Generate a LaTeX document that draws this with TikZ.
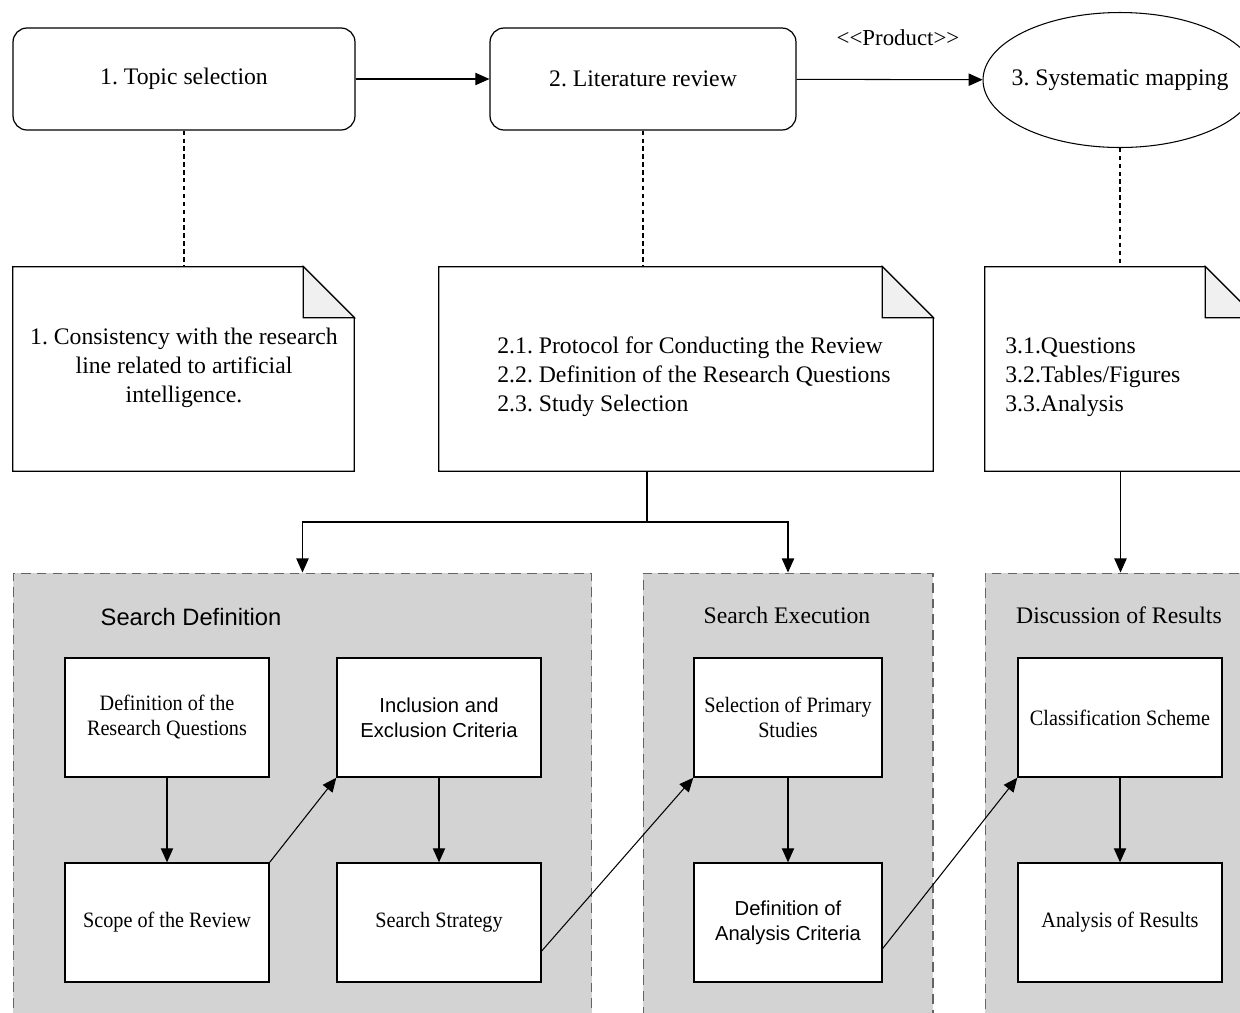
\documentclass[tikz,border=0pt]{standalone}
\usepackage{fontspec}
\setmainfont{Liberation Serif}
\setsansfont{Liberation Sans}
\newfontfamily\narrowserif[FakeStretch=0.92]{Liberation Serif}
\usetikzlibrary{arrows.meta,shapes.geometric}
\definecolor{panelgray}{RGB}{211,211,211}
\definecolor{edgegray}{RGB}{100,100,100}
\definecolor{foldgray}{RGB}{240,240,240}
\frenchspacing
\begin{document}
\begin{tikzpicture}[x=0.02cm, y=-0.02cm,
    phase/.style={draw, rounded corners=0.28cm, line width=0.7pt, minimum width=6.84cm, minimum height=2.04cm, font=\fontsize{13.5}{16.4}\selectfont},
    notebox/.style={minimum height=4.08cm, inner sep=0},
    notetext/.style={inner sep=0, font=\fontsize{13.5}{16.4}\selectfont},
    panel/.style={draw=edgegray, fill=panelgray, dash pattern=on 5.5pt off 3.5pt, line width=0.6pt, minimum height=9.14cm},
    paneltitle/.style={inner sep=0, font=\fontsize{13.5}{16.4}\selectfont},
    taskbox/.style={draw, fill=white, line width=0.8pt, minimum width=4.08cm, minimum height=2.38cm, align=center, font=\narrowserif\fontsize{12.5}{14.2}\selectfont},
    arr/.style={-{Triangle[length=8pt,width=7pt]}, line width=0.6pt},
    link/.style={line width=0.6pt, dash pattern=on 2.5pt off 2pt}
]
    \useasboundingbox (0,0) rectangle (1240,1012);
    \clip (0,0) rectangle (1240,1012);

    % top row
    \node[phase] (topic) at (184,79) {1. Topic selection};
    \node[phase, minimum width=6.12cm] (litrev) at (643,79) {2. Literature review};
    \node[inner sep=0, minimum width=5.48cm, minimum height=2.7cm, font=\fontsize{13.5}{16.4}\selectfont] (mapping) at (1120,80) {3. Systematic mapping};
    \draw[line width=0.6pt] (mapping.center) ellipse [x radius=2.74cm, y radius=1.35cm];
    \node[font=\fontsize{13}{15}\selectfont] (product) at (898,38) {<{}<Product>{}>};

    \draw[arr] (topic) -- (litrev);
    \draw[arr] (litrev) -- (mapping);

    % notes
    \node[notebox, minimum width=6.82cm] (note1) at (183.5,369) {};
    \node[notebox, minimum width=9.88cm] (note2) at (686,369) {};
    \node[notebox, minimum width=5.42cm] (note3) at (1120.5,369) {};
    \foreach \n in {note1,note2,note3}{
        \draw[line width=0.7pt] (\n.north west) -- ([xshift=-1.02cm]\n.north east) -- ([yshift=-1.02cm]\n.north east) -- (\n.south east) -- (\n.south west) -- cycle;
        \draw[line width=0.7pt, fill=foldgray] ([xshift=-1.02cm]\n.north east) -- ([yshift=-1.02cm]\n.north east) -- ([shift={(-1.02cm,-1.02cm)}]\n.north east) -- cycle;
    }
    \node[notetext, align=center] (note1txt) at (184,368) {1. Consistency with the research\\line related to artificial\\intelligence.};
    \node[notetext, align=left, anchor=west] (note2txt) at (497,377) {2.1. Protocol for Conducting the Review\\2.2. Definition of the Research Questions\\2.3. Study Selection};
    \node[notetext, align=left, anchor=west] (note3txt) at (1005,377) {3.1.Questions\\3.2.Tables/Figures\\3.3.Analysis};

    \draw[link] (topic.south) -- (topic.south |- note1.north);
    \draw[link] (litrev.south) -- (litrev.south |- note2.north);
    \draw[link] (mapping.south) -- (mapping.south |- note3.north);

    % panels
    \node[panel, minimum width=11.58cm] (defpanel) at (302.5,801.5) {};
    \node[panel, minimum width=5.8cm] (execpanel) at (788,801.5) {};
    \node[panel, minimum width=5.4cm] (discpanel) at (1120,801.5) {};
    \node[paneltitle, font=\sffamily\fontsize{13.5}{16.4}\selectfont] (deftitle) at (191,617) {Search Definition};
    \node[paneltitle] (exectitle) at (787,615) {Search Execution};
    \node[paneltitle] (disctitle) at (1119,615) {Discussion of Results};

    \coordinate (split) at (647,522);
    \draw[line width=0.6pt] (split |- note2.south) -- (split);
    \draw[arr] (split) -| (defpanel.north);
    \draw[arr] (split) -| (execpanel.north);
    \draw[arr] (note3.south) -- (note3.south |- discpanel.north);

    % steps
    \node[taskbox] (qdef) at (167,717.5) {Definition of the\\Research Questions};
    \node[taskbox] (scope) at (167,922.5) {Scope of the Review};
    \node[taskbox, font=\sffamily\fontsize{11.5}{14.2}\selectfont] (crit) at (439,717.5) {Inclusion and\\Exclusion Criteria};
    \node[taskbox] (strat) at (439,922.5) {Search Strategy};
    \node[taskbox, minimum width=3.76cm] (select) at (788,717.5) {Selection of Primary\\Studies};
    \node[taskbox, minimum width=3.76cm, font=\sffamily\fontsize{11.5}{14.2}\selectfont] (anacrit) at (788,922.5) {Definition of\\Analysis Criteria};
    \node[taskbox] (scheme) at (1120,717.5) {Classification Scheme};
    \node[taskbox] (results) at (1120,922.5) {Analysis of Results};

    \draw[arr] (qdef) -- (scope);
    \draw[arr] (scope.north east) -- (crit.south west);
    \draw[arr] (crit) -- (strat);
    \draw[arr] ([yshift=-0.57cm]strat.east) -- (select.south west);
    \draw[arr] (select) -- (anacrit);
    \draw[arr] ([yshift=-0.52cm]anacrit.east) -- (scheme.south west);
    \draw[arr] (scheme) -- (results);
\end{tikzpicture}
\end{document}
